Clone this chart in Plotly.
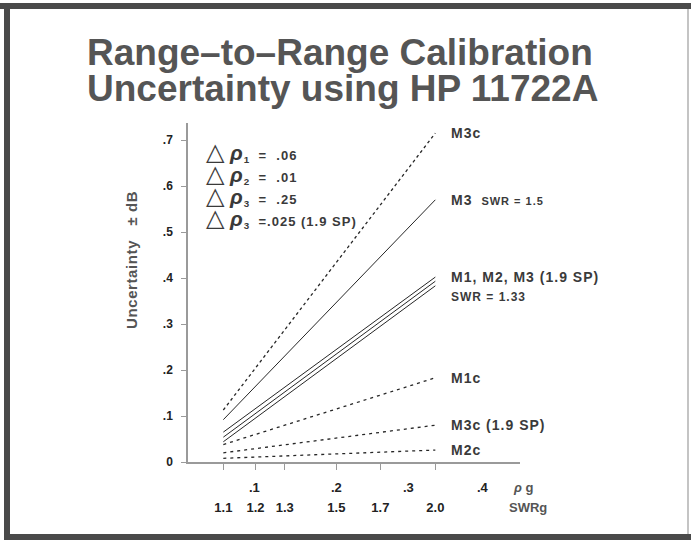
import plotly.graph_objects as go

# ---------------- data ----------------
swr_ticks = [1.1, 1.2, 1.3, 1.5, 1.7, 2.0]
swr_labels = ["1.1", "1.2", "1.3", "1.5", "1.7", "2.0"]
rho_label_pos = [0.09, 0.2, 0.297, 0.397]
rho_labels = [".1", ".2", ".3", ".4"]
y_ticks = [0, 0.1, 0.2, 0.3, 0.4, 0.5, 0.6, 0.7]
y_labels = ["0", ".1", ".2", ".3", ".4", ".5", ".6", ".7"]

line_swr = [1.1, 2.0]  # each line runs from SWRg 1.1 to SWRg 2.0
series_names = ["M3c", "M3", "M1", "M2", "M3 (1.9 SP)", "M1c", "M3c (1.9 SP)", "M2c"]
series_start = [0.113, 0.092, 0.065, 0.054, 0.044, 0.038, 0.020, 0.008]
series_end = [0.715, 0.570, 0.402, 0.393, 0.383, 0.183, 0.080, 0.026]
series_dash = ["dot", "solid", "solid", "solid", "solid", "3px,4px", "3px,4px", "3px,4px"]

delta_rho = [("1", "=\u00a0 .06"), ("2", "=\u00a0 .01"), ("3", "=\u00a0 .25"), ("3", "=.025 (1.9 SP)")]


def rho(s):
    return (s - 1.0) / (s + 1.0)


# ---------------- layout geometry ----------------
W, H = 691, 540
L, R, T, B = 188, 171, 123, 78
pw, ph = W - L - R, H - T - B


def px2x(px):
    return (px - L) / pw


def py2y(py):
    return (H - B - py) / ph


TXT = "#3a3a3a"
BOLD = "Liberation Sans"

fig = go.Figure()
x_line = [rho(s) for s in line_swr]
for name, y0, y1, d in zip(series_names, series_start, series_end, series_dash):
    fig.add_trace(go.Scatter(
        x=x_line, y=[y0, y1], mode="lines", name=name,
        line=dict(color="#262626", width=1.3 if d != "solid" else 1.0, dash=d),
        showlegend=False, hoverinfo="skip"))

ann = []
# Title (two lines)
for txt, yc in [("Range\u2013to\u2013Range Calibration", 53), ("Uncertainty using HP 11722A", 88)]:
    ann.append(dict(text=txt, xref="paper", yref="paper",
                    x=px2x(85), y=py2y(yc), xanchor="left", yanchor="middle", showarrow=False,
                    font=dict(family=BOLD, size=37, color="#555555", weight="bold")))

# Y axis title
ann.append(dict(text='<span style="letter-spacing:0.6px">Uncertainty   \u00b1 dB</span>',
                xref="paper", yref="paper",
                x=px2x(131), y=py2y(260), textangle=-90, showarrow=False,
                xanchor="center", yanchor="middle",
                font=dict(family=BOLD, size=15, color="#555555", weight="bold")))

# rho tick labels
for pos, lab in zip(rho_label_pos, rho_labels):
    ann.append(dict(text=lab, xref="x", yref="paper", x=pos, y=py2y(487),
                    showarrow=False, xanchor="center", yanchor="middle",
                    font=dict(family=BOLD, size=13, color="#222", weight="bold")))
ann.append(dict(text="<i>\u03c1</i> g", xref="paper", yref="paper", x=px2x(523), y=py2y(487),
                showarrow=False, xanchor="center", yanchor="middle",
                font=dict(family=BOLD, size=13, color="#555", weight="bold")))
ann.append(dict(text="SWRg", xref="paper", yref="paper", x=px2x(528), y=py2y(507),
                showarrow=False, xanchor="center", yanchor="middle",
                font=dict(family=BOLD, size=13, color="#555", weight="bold")))

# Delta rho legend: a column of triangles and a column of text (line pitch 1.3 x 17px)
tri_txt = "<br>".join(['<span style="font-size:24px">\u25b3</span>'] * len(delta_rho))
ann.append(dict(text=tri_txt, xref="paper", yref="paper", x=px2x(204), y=py2y(185),
                showarrow=False, xanchor="left", yanchor="middle", align="left",
                font=dict(family="DejaVu Sans", size=17, color=TXT)))
rows = []
for sub, val in delta_rho:
    rows.append('<i><span style="font-size:21px">\u03c1</span></i>'
                '<span style="font-size:4px">\u00a0</span>'
                '<span style="font-size:14px"><sub>' + sub + '</sub></span>'
                '<span style="font-size:13px;letter-spacing:1px">\u00a0 ' + val + '</span>')
ann.append(dict(text="<br>".join(rows), xref="paper", yref="paper", x=px2x(227), y=py2y(186),
                showarrow=False, xanchor="left", yanchor="middle", align="left",
                font=dict(family=BOLD, size=17, color=TXT, weight="bold")))

# Right-hand line labels
LS = '<span style="letter-spacing:1px">'
lab_x = px2x(449)
right_labels = [
    (series_end[0], LS + "M3c</span>"),
    (series_end[1], LS + 'M3 </span><span style="font-size:11px;letter-spacing:1px"> SWR = 1.5</span>'),
    (series_end[2], LS + "M1, M2, M3 (1.9 SP)</span>"),
    (series_end[5], LS + "M1c</span>"),
    (series_end[6], LS + "M3c (1.9 SP)</span>"),
    (series_end[7], LS + "M2c</span>"),
]
for yv, txt in right_labels:
    ann.append(dict(text=txt, xref="paper", yref="y", x=lab_x, y=yv,
                    showarrow=False, xanchor="left", yanchor="middle",
                    font=dict(family=BOLD, size=14, color=TXT, weight="bold")))
ann.append(dict(text='<span style="letter-spacing:1px">SWR = 1.33</span>', xref="paper", yref="paper",
                x=lab_x, y=py2y(297), showarrow=False, xanchor="left", yanchor="middle",
                font=dict(family=BOLD, size=12, color=TXT, weight="bold")))

# Frame
shapes = [
    dict(type="line", xref="paper", yref="paper", x0=px2x(0), x1=px2x(691), y0=py2y(6), y1=py2y(6),
         line=dict(color="#4a4a4a", width=6)),
    dict(type="line", xref="paper", yref="paper", x0=px2x(7), x1=px2x(7), y0=py2y(3), y1=py2y(540),
         line=dict(color="#4a4a4a", width=6)),
    dict(type="line", xref="paper", yref="paper", x0=px2x(4), x1=px2x(691), y0=py2y(537), y1=py2y(537),
         line=dict(color="#4a4a4a", width=6)),
    dict(type="line", xref="paper", yref="paper", x0=px2x(688), x1=px2x(688), y0=py2y(9), y1=py2y(534),
         line=dict(color="#c4c4c4", width=2)),
]

fig.update_layout(
    width=W, height=H, autosize=False,
    margin=dict(l=L, r=R, t=T, b=B, pad=0),
    paper_bgcolor="white", plot_bgcolor="white",
    annotations=ann, shapes=shapes,
    xaxis=dict(range=[0, pw / 742.0], showgrid=False, zeroline=False,
               showline=True, linecolor="#9a9a9a", linewidth=1.5,
               ticks="outside", ticklen=6, tickcolor="#9a9a9a", tickwidth=1,
               tickvals=[rho(s) for s in swr_ticks], ticktext=swr_labels,
               ticklabelstandoff=27,
               tickfont=dict(family=BOLD, size=13, color="#222", weight="bold")),
    yaxis=dict(range=[0, ph / 460.0], showgrid=False, zeroline=False,
               showline=True, linecolor="#9a9a9a", linewidth=1.5,
               ticks="outside", ticklen=5, tickcolor="#9a9a9a", tickwidth=1,
               tickvals=y_ticks, ticktext=y_labels, ticklabelstandoff=6,
               tickfont=dict(family=BOLD, size=12, color="#222", weight="bold")),
)

fig.write_html("out.html", config={"displayModeBar": False},
               post_script="document.body.style.margin='0';document.body.style.overflow='hidden';")
